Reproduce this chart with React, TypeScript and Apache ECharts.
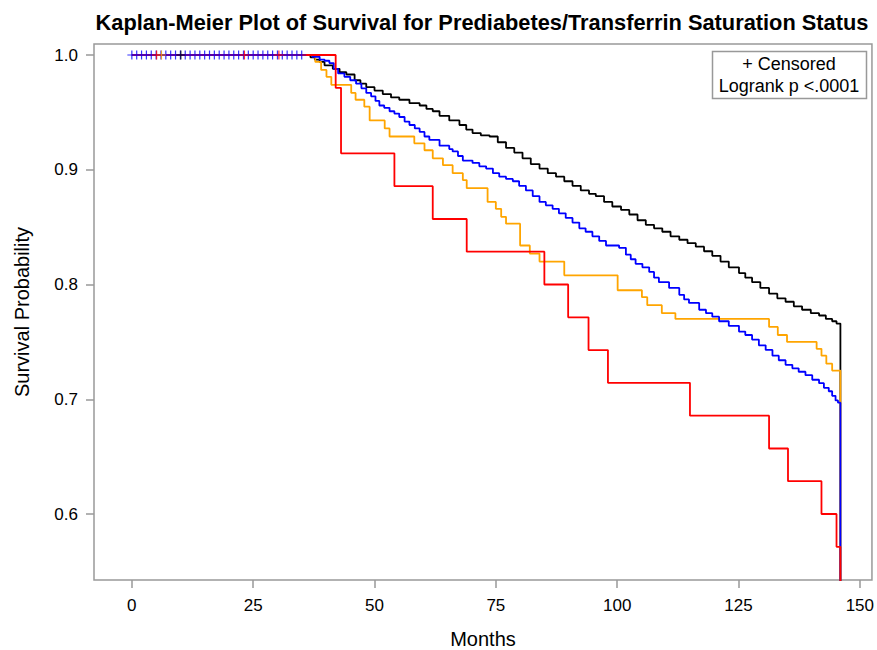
import React, { useEffect, useRef } from "react";
import * as echarts from "echarts";

const TITLE = "Kaplan-Meier Plot of Survival for Prediabetes/Transferrin Saturation Status";
const X_NAME = "Months";
const Y_NAME = "Survival Probability";
const LEGEND_LINES = ["+ Censored", "Logrank p <.0001"];
const X_TICKS = [0, 25, 50, 75, 100, 125, 150];
const Y_TICKS = [0.6, 0.7, 0.8, 0.9, 1.0];

// Kaplan-Meier step points: [month, survival]
const blackSurv: number[][] = [
  [0, 1.0], [36.8, 0.998], [37.7, 0.996], [38.7, 0.994], [39.7, 0.991], [41.4, 0.988], [42.8, 0.985],
  [44.2, 0.983], [45.9, 0.978], [47.1, 0.975], [48.3, 0.972], [50.0, 0.969], [51.7, 0.966], [53.4, 0.963],
  [55.1, 0.961], [57.2, 0.958], [59.3, 0.956], [60.7, 0.953], [62.0, 0.951], [63.4, 0.947], [65.4, 0.943],
  [67.5, 0.939], [68.9, 0.935], [70.2, 0.932], [71.9, 0.930], [73.7, 0.929], [75.4, 0.924], [77.1, 0.919],
  [78.8, 0.915], [80.5, 0.910], [82.2, 0.905], [84.0, 0.901], [85.7, 0.897], [87.4, 0.894], [89.1, 0.890],
  [90.8, 0.886], [92.5, 0.882], [94.2, 0.879], [95.6, 0.877], [97.3, 0.872], [99.0, 0.868], [100.8, 0.865],
  [102.5, 0.861], [104.2, 0.856], [105.9, 0.852], [107.6, 0.849], [109.3, 0.846], [111.0, 0.842],
  [112.8, 0.839], [114.5, 0.836], [116.2, 0.833], [117.9, 0.829], [119.6, 0.825], [121.3, 0.820],
  [123.0, 0.815], [125.1, 0.810], [126.4, 0.806], [127.8, 0.802], [129.5, 0.797], [131.3, 0.792],
  [133.0, 0.788], [134.7, 0.785], [136.4, 0.781], [138.1, 0.778], [139.9, 0.775], [141.6, 0.773],
  [143.0, 0.770], [144.3, 0.768], [145.2, 0.766], [146.0, 0]
];

const orangeSurv: number[][] = [
  [0, 1.0], [37.8, 0.994], [39.0, 0.987], [40.1, 0.981], [41.1, 0.974], [45.2, 0.967], [46.1, 0.961],
  [47.9, 0.955], [49.0, 0.943], [52.1, 0.936], [53.1, 0.929], [58.2, 0.923], [60.3, 0.917], [62.0, 0.910],
  [64.1, 0.904], [66.1, 0.897], [68.2, 0.891], [69.0, 0.884], [73.3, 0.872], [75.0, 0.866], [76.1, 0.859],
  [77.1, 0.853], [80.0, 0.834], [82.0, 0.827], [84.0, 0.820], [89.1, 0.808], [100.1, 0.795], [105.1, 0.789],
  [106.2, 0.782], [109.2, 0.775], [112.0, 0.770], [131.3, 0.763], [133.1, 0.756], [135.0, 0.750],
  [141.1, 0.744], [142.1, 0.738], [143.1, 0.731], [144.3, 0.725], [146.0, 0]
];

const blueSurv: number[][] = [
  [0, 1.0], [37.2, 0.9985], [38.7, 0.996], [39.7, 0.995], [40.7, 0.993], [41.6, 0.988], [42.5, 0.984],
  [43.8, 0.981], [45.0, 0.978], [46.2, 0.975], [47.3, 0.971], [48.3, 0.967], [49.3, 0.964], [50.2, 0.960],
  [51.0, 0.956], [52.0, 0.954], [53.1, 0.951], [54.1, 0.949], [55.1, 0.946], [56.2, 0.942], [57.2, 0.939],
  [58.3, 0.936], [59.3, 0.933], [60.3, 0.929], [61.3, 0.926], [63.4, 0.921], [65.4, 0.918], [66.1, 0.916],
  [67.2, 0.912], [68.2, 0.908], [70.2, 0.906], [71.6, 0.903], [73.0, 0.901], [74.4, 0.897], [75.7, 0.894],
  [77.1, 0.892], [78.5, 0.890], [79.8, 0.886], [81.2, 0.882], [82.6, 0.877], [84.0, 0.872], [85.3, 0.869],
  [86.7, 0.866], [88.0, 0.862], [89.4, 0.858], [90.8, 0.854], [92.2, 0.849], [93.5, 0.846], [94.9, 0.842],
  [96.3, 0.838], [97.7, 0.834], [100.4, 0.832], [101.8, 0.826], [102.8, 0.822], [103.8, 0.818],
  [105.2, 0.815], [106.6, 0.811], [107.6, 0.806], [108.6, 0.802], [110.7, 0.797], [112.8, 0.791],
  [113.8, 0.787], [114.8, 0.784], [116.9, 0.778], [118.3, 0.775], [119.6, 0.772], [121.0, 0.768],
  [123.0, 0.764], [125.1, 0.759], [126.4, 0.756], [127.8, 0.752], [129.2, 0.747], [130.6, 0.743],
  [132.0, 0.738], [133.3, 0.734], [134.7, 0.730], [136.1, 0.727], [137.4, 0.724], [138.8, 0.721],
  [140.2, 0.717], [141.6, 0.714], [142.6, 0.710], [143.6, 0.707], [144.3, 0.703], [145.0, 0.699],
  [145.5, 0.697], [146.0, 0]
];

const redSurv: number[][] = [
  [0, 1.0], [42.0, 0.9714], [43.1, 0.9143], [54.1, 0.8857], [62.0, 0.8571], [69.0, 0.8286], [85.0, 0.8],
  [89.9, 0.7714], [94.1, 0.7429], [98.1, 0.7143], [115.0, 0.6857], [131.3, 0.6571], [135.2, 0.6286],
  [142.1, 0.6], [145.2, 0.5714], [146.0, 0]
];

// Censored times shown at survival 1.0
const blueCensored: number[] = [
  0, 1, 2, 3, 4, 5, 6, 7, 8, 9, 10, 11, 12, 13, 14, 15, 16, 17, 18, 19, 20, 21, 22, 23, 24, 25, 26, 27, 28,
  29, 30, 31, 32, 33, 34, 35
];
const blackCensored: number[] = [10.1];
const orangeCensored: number[] = [6.1];
const redCensored: number[] = [5.1, 23.2, 30.3];

const COLORS = { black: "#000000", orange: "#FFA500", blue: "#0000FF", red: "#FF0000" };
const FONT = "Liberation Sans, Arial, sans-serif";
const PLUS = "path://M0,4L8,4M4,0L4,8";

export default function App() {
  const ref = useRef<HTMLDivElement>(null);
  useEffect(() => {
    if (!ref.current) return;
    const chart = echarts.init(ref.current, null, { renderer: "svg" });
    const grid = { left: 94, right: 4, top: 44, bottom: 70 };
    const lineSeries = (name: string, data: number[][], color: string) => ({
      name,
      type: "line",
      step: "end",
      data,
      showSymbol: false,
      symbol: "none",
      clip: true,
      lineStyle: { color, width: 1.8 },
      itemStyle: { color },
      z: 2,
    });
    const censSeries = (name: string, times: number[], color: string) => ({
      name,
      type: "scatter",
      data: times.map((t) => [t, 1.0]),
      symbol: PLUS,
      symbolSize: 9,
      itemStyle: { color: "rgba(0,0,0,0)", borderColor: color, borderWidth: 1.2 },
      z: 3,
    });
    chart.setOption({
      animation: false,
      backgroundColor: "#ffffff",
      grid: { ...grid, show: true, borderColor: "#999999", borderWidth: 1.5, backgroundColor: "transparent" },
      xAxis: {
        type: "value",
        min: -7.8,
        max: 152.5,
        axisLine: { show: false, onZero: false },
        splitLine: { show: false },
        axisTick: { show: true, length: 8, lineStyle: { color: "#999999", width: 1.5 }, customValues: X_TICKS },
        axisLabel: { color: "#000", fontSize: 17, fontFamily: FONT, margin: 17, customValues: X_TICKS },
      },
      yAxis: {
        type: "value",
        min: 0.5425,
        max: 1.0096,
        axisLine: { show: false, onZero: false },
        splitLine: { show: false },
        axisTick: { show: true, length: 8, lineStyle: { color: "#999999", width: 1.5 }, customValues: Y_TICKS },
        axisLabel: {
          color: "#000",
          fontSize: 17,
          fontFamily: FONT,
          margin: 16,
          customValues: Y_TICKS,
          formatter: (v: number) => v.toFixed(1),
        },
      },
      series: [
        lineSeries("black", blackSurv, COLORS.black),
        lineSeries("orange", orangeSurv, COLORS.orange),
        lineSeries("blue", blueSurv, COLORS.blue),
        lineSeries("red", redSurv, COLORS.red),
        censSeries("blueC", blueCensored, COLORS.blue),
        censSeries("blackC", blackCensored, COLORS.black),
        censSeries("orangeC", orangeCensored, COLORS.orange),
        censSeries("redC", redCensored, COLORS.red),
      ],
      graphic: [
        {
          type: "text",
          x: 482,
          y: 22,
          style: { text: TITLE, fontSize: 21.8, fontWeight: "bold", fontFamily: FONT, fill: "#000", align: "center", verticalAlign: "middle" },
        },
        {
          type: "text",
          x: 483,
          y: 639,
          style: { text: X_NAME, fontSize: 20, fontFamily: FONT, fill: "#000", align: "center", verticalAlign: "middle" },
        },
        {
          type: "text",
          x: 22,
          y: 312,
          rotation: Math.PI / 2,
          style: { text: Y_NAME, fontSize: 20, fontFamily: FONT, fill: "#000", align: "center", verticalAlign: "middle" },
        },
        {
          type: "rect",
          shape: { x: 712.5, y: 51.5, width: 154, height: 47 },
          style: { fill: "#fff", stroke: "#999999", lineWidth: 1.5 },
          z: 10,
        },
        {
          type: "text",
          x: 789,
          y: 64,
          z: 11,
          style: { text: LEGEND_LINES[0], fontSize: 18, fontFamily: FONT, fill: "#000", align: "center", verticalAlign: "middle" },
        },
        {
          type: "text",
          x: 789,
          y: 86,
          z: 11,
          style: { text: LEGEND_LINES[1], fontSize: 18, fontFamily: FONT, fill: "#000", align: "center", verticalAlign: "middle" },
        },
      ],
    });
    return () => chart.dispose();
  }, []);
  return <div ref={ref} style={{ width: 877, height: 650, position: "absolute", left: 0, top: 0 }} />;
}
